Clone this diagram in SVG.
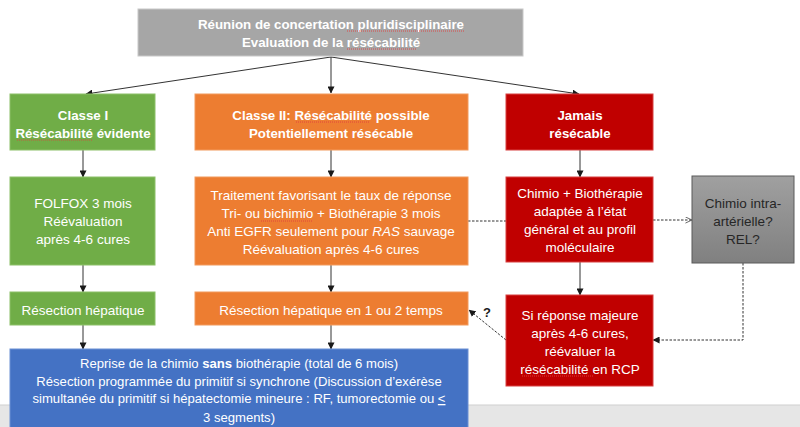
<svg xmlns="http://www.w3.org/2000/svg" width="800" height="427" viewBox="0 0 800 427">
<defs>
<marker id="ah" viewBox="0 0 8 8" refX="7.5" refY="4" markerWidth="7" markerHeight="7" markerUnits="userSpaceOnUse" orient="auto">
<path d="M0,0 L8,4 L0,8 z" fill="#1a1a1a"/>
</marker>
<marker id="ao" viewBox="0 0 8 8" refX="7.5" refY="4" markerWidth="7" markerHeight="7" markerUnits="userSpaceOnUse" orient="auto">
<path d="M0,0.5 L7.5,4 L0,7.5" fill="none" stroke="#555" stroke-width="1"/>
</marker>
<linearGradient id="gg" x1="0" y1="0" x2="0" y2="1">
<stop offset="0" stop-color="#a0a0a0"/>
<stop offset="1" stop-color="#808080"/>
</linearGradient>
</defs>
<style>
text{font-family:"Liberation Sans",Arial,sans-serif;font-size:13.5px;fill:#fff;text-anchor:middle}
.b{font-weight:bold;font-size:13.3px}
.dk{fill:#262626}
.sm{font-size:13.1px}
.ln{stroke:#333;stroke-width:1;fill:none}
.ds{stroke:#333;stroke-width:1;fill:none;stroke-dasharray:2.5,1.5}
.sq{stroke:#e04040;stroke-width:0.9;stroke-dasharray:1,1;fill:none}
</style>
<rect x="0" y="0" width="800" height="427" fill="#fff"/>
<rect x="0" y="405" width="800" height="22" fill="#e6e6e6"/>
<line x1="0" y1="405" x2="800" y2="405" stroke="#cfcfcf"/>

<g id="connectors">
<line class="ln" x1="331" y1="57" x2="86" y2="94" marker-end="url(#ah)"/>
<line class="ln" x1="331" y1="57" x2="331" y2="93" marker-end="url(#ah)"/>
<line class="ln" x1="331" y1="57" x2="579" y2="94" marker-end="url(#ah)"/>
<line class="ln" x1="83" y1="150" x2="83" y2="177" marker-end="url(#ah)"/>
<line class="ln" x1="83" y1="265" x2="83" y2="292" marker-end="url(#ah)"/>
<line class="ln" x1="83" y1="325" x2="83" y2="349" marker-end="url(#ah)"/>
<line class="ln" x1="331" y1="150" x2="331" y2="177" marker-end="url(#ah)"/>
<line class="ln" x1="331" y1="265" x2="331" y2="292" marker-end="url(#ah)"/>
<line class="ln" x1="331" y1="325" x2="331" y2="349" marker-end="url(#ah)"/>
<line class="ln" x1="580" y1="150" x2="580" y2="177" marker-end="url(#ah)"/>
<line class="ln" x1="580" y1="262" x2="580" y2="295" marker-end="url(#ah)"/>
<line class="ds" x1="468" y1="221" x2="506" y2="221"/>
<line class="ds" x1="653" y1="220" x2="692" y2="220" marker-end="url(#ao)"/>
<polyline class="ds" points="743,263 743,340 653,340" marker-end="url(#ah)"/>
<line class="ds" x1="506" y1="340" x2="469" y2="310" marker-end="url(#ah)"/>
<text x="487" y="317" class="b" style="fill:#1a1a1a;font-size:13px">?</text>
</g>

<g id="n-rcp">
<rect x="138" y="9" width="385" height="47" fill="#a6a6a6" stroke="#c8c8c8"/>
<text x="331" y="29" class="b">Réunion de concertation pluridisciplinaire</text>
<text x="331" y="47" class="b">Evaluation de la résécabilité</text>
<path class="sq" d="M347,31 H464 M347,49 H417"/>
</g>

<g id="n-classe1">
<rect x="10" y="94" width="145" height="56" fill="#70ad47" stroke="#8cc068"/>
<text x="83" y="120" class="b">Classe I</text>
<text x="83" y="138" class="b">Résécabilité évidente</text>
<path class="sq" d="M17,140 H92"/>
</g>

<g id="n-classe2">
<rect x="195" y="94" width="273" height="56" fill="#ed7d31" stroke="#f29a5c"/>
<text x="331" y="120" class="b">Classe II: Résécabilité possible</text>
<text x="331" y="138" class="b">Potentiellement résécable</text>
<path class="sq" d="M296,122 H369"/>
</g>

<g id="n-jamais">
<rect x="506" y="94" width="147" height="56" fill="#c00000" stroke="#d84040"/>
<text x="580" y="120" class="b">Jamais</text>
<text x="580" y="138" class="b">résécable</text>
</g>

<g id="n-folfox">
<rect x="10" y="177" width="145" height="88" fill="#70ad47" stroke="#8cc068"/>
<text x="83" y="208">FOLFOX 3 mois</text>
<text x="83" y="226">Réévaluation</text>
<text x="83" y="244">après 4-6 cures</text>
</g>

<g id="n-traitement">
<rect x="195" y="177" width="273" height="88" fill="#ed7d31" stroke="#f29a5c"/>
<text x="331" y="200">Traitement favorisant le taux de réponse</text>
<text x="331" y="218">Tri- ou bichimio + Biothérapie 3 mois</text>
<text x="331" y="236">Anti EGFR seulement pour <tspan font-style="italic">RAS</tspan> sauvage</text>
<text x="331" y="254">Réévaluation après 4-6 cures</text>
<path class="sq" d="M261,221 H313"/>
</g>

<g id="n-chimiobio">
<rect x="506" y="177" width="147" height="85" fill="#c00000" stroke="#d84040"/>
<text x="580" y="198">Chimio + Biothérapie</text>
<text x="580" y="216">adaptée à l’état</text>
<text x="580" y="234">général et au profil</text>
<text x="580" y="252">moléculaire</text>
</g>

<g id="n-intra">
<rect x="692" y="176" width="102" height="87" fill="url(#gg)" stroke="#5a5a5a"/>
<text x="743" y="208" class="dk">Chimio intra-</text>
<text x="743" y="226" class="dk">artérielle?</text>
<text x="743" y="244" class="dk">REL?</text>
</g>

<g id="n-resec1">
<rect x="10" y="292" width="145" height="33" fill="#70ad47" stroke="#8cc068"/>
<text x="83" y="315">Résection hépatique</text>
</g>

<g id="n-resec2">
<rect x="195" y="292" width="273" height="33" fill="#ed7d31" stroke="#f29a5c"/>
<text x="331" y="315">Résection hépatique en 1 ou 2 temps</text>
</g>

<g id="n-reponse">
<rect x="506" y="295" width="147" height="91" fill="#c00000" stroke="#d84040"/>
<text x="580" y="320">Si réponse majeure</text>
<text x="580" y="338">après 4-6 cures,</text>
<text x="580" y="356">réévaluer la</text>
<text x="580" y="374">résécabilité en RCP</text>
<path class="sq" d="M522,376 H593"/>
</g>

<g id="n-reprise">
<rect x="10" y="349" width="458" height="82" fill="#4472c4" stroke="#6a8fd4"/>
<text x="239" y="368" class="sm">Reprise de la chimio <tspan font-weight="bold">sans</tspan> biothérapie (total de 6 mois)</text>
<text x="239" y="386" class="sm">Résection programmée du primitif si synchrone (Discussion d’exérèse</text>
<text x="239" y="403" class="sm">simultanée du primitif si hépatectomie mineure : RF, tumorectomie ou <tspan text-decoration="underline">&lt;</tspan></text>
<text x="239" y="422" class="sm">3 segments)</text>
</g>
</svg>
